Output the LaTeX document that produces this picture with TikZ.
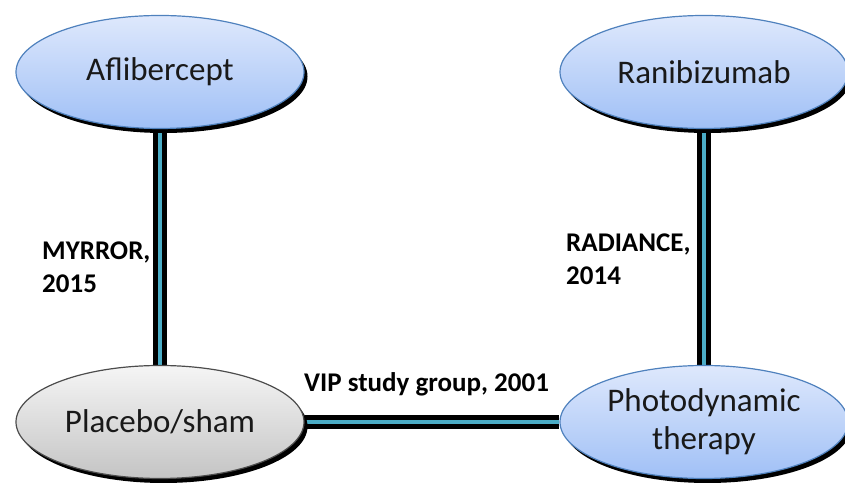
\documentclass[tikz,border=0pt]{standalone}
\usepackage{fontspec}
\setmainfont{Carlito}
\usetikzlibrary{shapes.geometric,shadows,backgrounds}
\definecolor{linkblue}{RGB}{75,172,198}
\definecolor{rimblue}{RGB}{79,129,189}
\definecolor{topblue}{RGB}{222,232,252}
\definecolor{botblue}{RGB}{160,192,246}
\definecolor{topgray}{RGB}{245,245,245}
\definecolor{botgray}{RGB}{196,196,196}
\definecolor{inktext}{RGB}{25,25,25}
\tikzset{
  oval/.style={ellipse, draw=rimblue, line width=1.2pt, inner sep=0pt,
    minimum width=288pt, minimum height=113pt, text=inktext, align=center,
    font=\fontsize{33}{38}\selectfont,
    drop shadow={shadow xshift=3.5pt, shadow yshift=-4.5pt, fill=black, opacity=1},
    top color=topblue, bottom color=botblue},
  grayoval/.style={oval, draw=black!70, top color=topgray, bottom color=botgray},
  linkouter/.style={line width=14pt, draw=black},
  linkinner/.style={line width=4.5pt, draw=linkblue},
  trial/.style={font=\fontsize{27}{33}\selectfont\bfseries, inner sep=0pt,
    align=left, text=black}
}
\begin{document}
\begin{tikzpicture}[x=1pt,y=1pt]
  \useasboundingbox (0,0) rectangle (845,486);
  \node[oval] (aflib) at (160,414) {Aflibercept};
  \node[oval] (ranib) at (704,414) {Ranibizumab};
  \node[grayoval] (placebo) at (160,64) {Placebo/sham};
  \node[oval] (pdt) at (704,64) {Photodynamic\\therapy};
  \begin{scope}[on background layer]
    \draw[linkouter] (aflib) -- (placebo);
    \draw[linkouter] (ranib) -- (pdt);
    \draw[linkouter] (placebo) -- (pdt);
    \draw[linkinner] (aflib) -- (placebo);
    \draw[linkinner] (ranib) -- (pdt);
    \draw[linkinner] (placebo) -- (pdt);
  \end{scope}
  \node[trial, anchor=base west] (myrror) at (42,193) {MYRROR,\\2015};
  \node[trial, anchor=base west] (radiance) at (566,201) {RADIANCE,\\2014};
  \node[trial, anchor=base west] (vip) at (304,94) {VIP study group, 2001};
\end{tikzpicture}
\end{document}
